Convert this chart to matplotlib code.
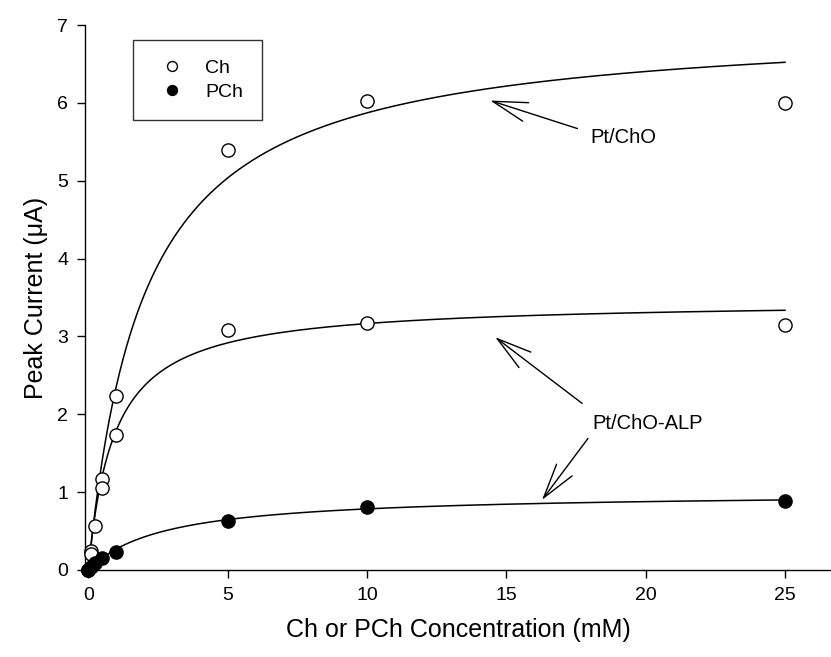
import numpy as np
import matplotlib
matplotlib.use("Agg")
import matplotlib.pyplot as plt

plt.rcParams['font.family'] = ['Liberation Sans', 'DejaVu Sans']

# Data
ch_x = [0, 0.1, 0.25, 0.5, 1, 5, 10, 25]
ch_pto = [0, 0.24, 0.57, 1.17, 2.23, 5.40, 6.02, 6.00]
ch_alp_x = [0, 0.1, 0.5, 1, 5, 10, 25]
ch_alp = [0, 0.20, 1.05, 1.74, 3.08, 3.17, 3.15]
pch_x = [0, 0.1, 0.25, 0.5, 1, 5, 10, 25]
pch = [0, 0.04, 0.09, 0.15, 0.23, 0.63, 0.81, 0.89]

# Michaelis-Menten fit parameters (Imax, Km)
fit_pto = (7.04, 1.99)
fit_alp = (3.46, 0.93)
fit_pch = (0.997, 2.7)

x_label = "Ch or PCh Concentration (mM)"
y_label = "Peak Current (\u03bcA)"
legend_labels = ["Ch", "PCh"]

fig = plt.figure(figsize=(8.31, 6.57), dpi=100)
ax = fig.add_axes([85/831, 87/657, 1 - 85/831, (570 - 25)/657])

xf = np.linspace(0, 25, 400)
for imax, km in (fit_pto, fit_alp, fit_pch):
    ax.plot(xf, imax * xf / (km + xf), color='black', lw=1.1, zorder=2)

ms = 9.5
h1, = ax.plot(ch_x, ch_pto, 'o', mfc='white', mec='black', mew=1.0, ms=ms,
              clip_on=False, zorder=3)
ax.plot(ch_alp_x, ch_alp, 'o', mfc='white', mec='black', mew=1.0, ms=ms,
        clip_on=False, zorder=3)
h2, = ax.plot(pch_x, pch, 'o', mfc='black', mec='black', mew=1.0, ms=ms,
              clip_on=False, zorder=4)

ax.set_xlim(-0.12, 26.65)
ax.set_ylim(0, 7)
ax.set_xticks([0, 5, 10, 15, 20, 25])
ax.set_yticks(range(0, 8))
for s in ('top', 'right'):
    ax.spines[s].set_visible(False)
for s in ('left', 'bottom'):
    ax.spines[s].set_linewidth(1.0)
ax.tick_params(direction='out', length=6, width=1.0, labelsize=14, pad=6)

ax.set_xlabel(x_label, fontsize=18, labelpad=10)
ax.set_ylabel(y_label, fontsize=18, labelpad=7)

arrow = dict(arrowstyle='->,head_length=2.5,head_width=0.7', color='black', lw=1.0,
             shrinkA=0, shrinkB=0, mutation_scale=10)
ax.annotate("", xy=(14.42, 6.03), xytext=(17.55, 5.67), arrowprops=arrow)
ax.text(18.0, 5.56, "Pt/ChO", fontsize=14.5, va='center', ha='left')
ax.annotate("", xy=(14.6, 2.99), xytext=(17.72, 2.14), arrowprops=arrow)
ax.annotate("", xy=(16.28, 0.90), xytext=(17.93, 1.69), arrowprops=arrow)
ax.text(18.1, 1.88, "Pt/ChO-ALP", fontsize=14.5, va='center', ha='left')

leg = ax.legend([h1, h2], legend_labels, loc='upper left',
                bbox_to_anchor=(48/746, 1 - 15/545), fontsize=14,
                frameon=True, fancybox=False, edgecolor='black',
                borderpad=1.0, handletextpad=0.7, labelspacing=0.32,
                markerscale=0.75, borderaxespad=0, handlelength=2.0)
leg.get_frame().set_linewidth(1.0)

fig.savefig("out.png", dpi=100, facecolor='white')
